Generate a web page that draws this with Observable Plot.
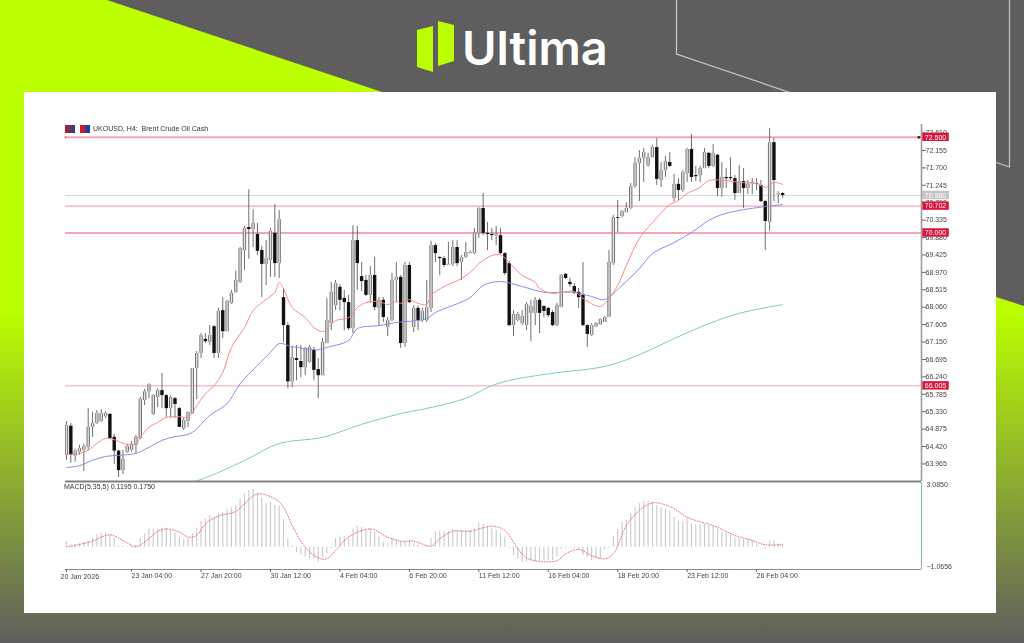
<!DOCTYPE html>
<html>
<head>
<meta charset="utf-8">
<script src="https://cdn.jsdelivr.net/npm/d3@7"></script>
<script src="https://cdn.jsdelivr.net/npm/@observablehq/plot@0.6"></script>
<style>
html,body{margin:0;padding:0;width:1024px;height:643px;overflow:hidden;background:#5e5e5e;font-family:"Liberation Sans",sans-serif}
#bg{position:absolute;left:0;top:0;width:1024px;height:643px;background:linear-gradient(180deg,#bcff00 0,#bcff00 310px,#5e5e5e 643px);clip-path:polygon(0 0,107px 0,382px 92px,996px 92px,996px 297px,1024px 306px,1024px 643px,0 643px)}
#deco{position:absolute;left:0;top:0}
#panel{position:absolute;left:24px;top:92px;width:972px;height:521px;background:#fff}
#main,#macd{position:absolute;left:24px;filter:blur(.4px)}
#main{top:92px}#macd{top:482px}
#title,#macdTitle{position:absolute;font-size:7px;color:#333;white-space:pre;filter:blur(.35px)}
#title{left:93px;top:125px}
#macdTitle{left:64px;top:483px}
.ico{position:absolute;top:125px;height:8px;width:10px;filter:blur(.4px)}
#i1{left:65px;background:linear-gradient(90deg,#b2222a,#24418f)}
#i2{left:80px;width:10px;background:linear-gradient(90deg,#d01c28 50%,#1f3fae 50%)}
</style>
</head>
<body>
<div id="bg"></div>
<svg id="deco" width="1024" height="643">
  <polyline points="676.5,0 676.5,54 1009.5,167 1009.5,0" fill="none" stroke="#c8c8c8" stroke-width="1.2"/>
  <polygon points="417,30 433,26 433,72 417,67" fill="#bcff00"/>
  <polygon points="438,21 454,25 454,61 438,66" fill="#bcff00"/>
  <text x="462" y="65" font-family="Inter" font-weight="600" font-size="47" fill="#fff">Ultima</text>
</svg>
<div id="panel"></div>
<div class="ico" id="i1"></div><div class="ico" id="i2"></div>
<div id="title">UKOUSD, H4:  Brent Crude Oil Cash</div>
<div id="macdTitle">MACD(5,35,5) 0.1195 0.1750</div>
<script>
const opens=[64.19,64.95,64.17,64.27,64.32,64.40,64.92,65.02,65.07,65.20,
65.26,64.66,64.30,63.79,64.27,64.32,64.45,64.63,65.62,65.85,
65.26,65.70,65.88,65.75,65.41,65.67,65.41,64.89,65.07,65.28,
66.46,66.85,67.22,67.14,67.55,66.85,67.97,67.42,68.16,68.45,
68.71,69.54,70.14,70.09,69.96,69.54,69.18,69.28,69.99,69.20,
68.31,67.58,66.11,66.72,66.64,66.48,66.62,66.93,66.43,66.27,
67.11,67.63,68.10,68.58,68.29,68.18,67.50,69.80,68.86,68.76,
68.37,68.89,68.03,68.24,67.53,67.71,68.76,68.84,67.11,69.15,
67.53,68.03,67.71,67.71,68.03,69.67,69.36,69.33,69.15,69.18,
69.62,69.23,69.36,69.46,69.46,69.99,70.64,69.99,69.96,69.93,
69.93,69.46,69.20,67.58,67.71,67.63,67.58,67.90,67.90,68.24,
68.08,68.03,67.92,67.58,68.05,68.92,68.71,68.60,68.45,68.37,
67.58,67.32,67.55,67.60,67.66,67.79,69.20,70.40,70.43,70.53,
70.64,71.21,71.82,71.95,71.76,71.97,72.23,71.37,71.63,71.84,
70.90,71.27,71.11,71.55,72.18,71.50,71.50,71.68,72.08,71.74,
72.03,71.16,71.45,71.45,71.42,71.03,71.34,71.16,71.29,71.29,
71.24,70.82,70.27,72.36,71.00,71.03];
const closes=[64.97,64.19,64.30,64.37,64.42,64.92,65.02,65.28,65.28,65.28,
64.63,64.30,63.79,64.09,64.42,64.48,64.66,65.65,65.85,66.04,
65.75,65.88,65.75,65.41,65.70,65.52,64.92,65.10,65.31,66.46,
66.85,67.32,67.16,67.32,66.85,67.95,67.42,68.21,68.42,68.76,
69.59,70.12,70.09,70.25,69.52,69.18,69.33,70.04,69.20,70.35,
67.58,66.11,66.74,66.67,66.48,66.98,67.01,66.41,66.27,67.14,
67.71,68.45,68.68,68.24,68.18,67.50,69.80,69.20,68.73,68.37,
68.89,68.05,68.24,67.79,67.71,68.76,68.84,67.11,69.15,68.18,
68.03,67.71,67.95,68.05,69.67,69.46,69.33,69.15,69.18,69.62,
69.20,69.36,69.49,69.49,69.99,70.64,69.99,69.96,69.93,69.96,
69.46,68.94,67.58,67.87,67.87,67.82,68.13,68.08,68.24,67.90,
67.95,67.84,67.58,68.10,68.89,68.81,68.65,68.42,68.31,67.58,
67.35,67.58,67.63,67.74,67.79,69.23,70.40,70.38,70.56,70.64,
71.21,71.82,71.95,72.10,71.97,72.23,71.40,71.63,71.87,71.74,
71.27,71.11,71.58,72.18,71.45,71.47,71.68,72.10,71.74,72.08,
71.16,71.45,71.42,71.42,71.03,71.34,71.16,71.27,71.32,71.27,
70.82,70.30,72.36,71.37,71.03,70.98];
const highs=[65.07,65.02,64.35,64.45,64.48,65.41,65.31,65.36,65.39,65.33,
65.28,64.74,64.32,64.32,64.48,64.55,64.71,65.70,65.91,66.06,
65.78,65.93,66.33,65.78,65.75,65.70,65.44,65.15,65.33,66.46,
66.90,67.37,67.37,67.58,67.58,68.03,68.31,68.24,68.50,69.00,
69.62,70.17,71.13,70.61,70.25,69.65,69.80,70.12,70.74,70.59,
68.55,67.66,67.01,67.06,67.06,67.01,67.06,67.01,66.72,67.24,
68.29,68.71,68.76,68.65,68.50,68.37,70.19,70.17,69.23,68.89,
69.12,69.36,68.31,68.31,67.79,68.94,69.23,68.89,69.23,69.23,
68.10,68.10,68.03,68.76,69.78,69.72,69.38,69.38,69.75,69.80,
69.80,69.41,69.75,69.54,70.12,70.66,71.03,70.27,70.12,70.17,
70.12,69.49,69.25,67.97,67.92,67.97,68.18,68.24,68.31,68.29,
68.10,68.05,67.97,68.16,68.92,68.94,68.81,68.68,68.55,69.23,
67.60,67.63,67.66,67.76,67.82,69.54,70.46,70.85,70.59,70.79,
71.29,71.97,72.155,72.21,72.08,72.29,72.47,71.84,72.00,72.10,
71.53,71.42,71.63,72.21,72.57,71.74,71.74,72.21,72.10,72.31,
72.05,71.84,71.68,71.97,71.50,71.76,71.68,71.37,71.42,71.42,
71.37,70.85,72.73,72.47,71.08,71.06];
const lows=[64.06,63.98,64.01,64.19,63.77,64.32,64.66,65.00,65.05,65.15,
64.60,63.95,63.61,63.69,64.24,64.27,64.24,64.60,65.49,65.67,
65.23,65.44,65.41,65.18,65.15,65.15,64.92,64.84,64.92,65.26,
65.65,66.72,67.11,67.06,66.72,66.72,67.24,67.42,68.13,68.42,
68.68,69.02,69.31,69.62,69.41,68.31,68.63,68.84,68.84,68.81,
67.14,65.93,65.96,66.14,66.22,66.27,66.59,66.14,65.67,66.27,
67.11,67.45,67.97,67.97,67.45,67.45,67.37,68.50,68.47,68.34,
68.16,67.97,67.58,67.66,67.29,67.68,68.18,66.98,67.01,68.16,
67.40,67.45,67.66,67.66,67.92,69.23,68.89,69.10,69.15,69.12,
69.12,68.76,69.33,69.46,69.43,69.86,69.93,69.54,69.80,69.67,
69.43,68.89,67.55,67.29,67.68,67.58,67.45,67.16,67.58,67.37,
67.79,67.79,67.55,67.55,68.05,68.79,68.58,68.39,68.03,67.55,
67.01,67.29,67.53,67.60,67.66,67.79,69.15,70.01,70.40,70.53,
70.61,71.16,70.82,71.32,71.71,71.95,71.24,71.19,71.45,71.71,
70.82,70.85,71.06,71.32,71.32,71.34,71.32,71.68,71.68,71.71,
70.95,70.93,71.16,71.37,70.85,71.03,70.64,71.00,71.00,71.11,
70.79,69.54,70.04,70.82,70.77,70.90];

const fastIdx=[0,3,5,7,9,11,14,16,17,19,21,23,26,28,29,32,34,36,38,41,43,45,48,49,50,52,55,57,59,60,62,65,67,69,72,74,76,77,79,81,83,84,87,91,94,95,98,100,102,105,108,109,112,114,117,119,123,125,127,129,132,135,139,141,143,146,148,152,155,159,161,163,165];
const fastMA=[64.21,64.24,64.32,64.50,64.63,64.60,64.47,64.50,64.66,64.92,65.05,65.18,65.20,65.18,65.31,65.80,66.01,66.35,67.01,67.53,67.97,68.18,68.45,68.71,68.55,68.05,67.79,67.53,67.42,67.50,67.71,67.79,68.05,68.18,68.21,68.13,68.21,68.16,68.26,68.16,68.13,68.37,68.60,68.81,69.07,69.20,69.41,69.43,69.23,68.89,68.71,68.55,68.42,68.45,68.47,68.29,68.08,68.29,68.63,69.15,69.86,70.27,70.74,70.85,71.03,71.19,71.37,71.37,71.32,71.29,71.19,71.32,71.27];
const midIdx=[0,3,6,9,12,16,19,22,25,27,29,33,37,40,44,47,49,52,58,60,65,67,72,76,83,85,93,96,100,105,110,114,117,121,124,128,132,135,140,144,148,151,155,159,161,165];
const midMA=[63.87,63.92,64.06,64.16,64.19,64.24,64.40,64.58,64.68,64.71,64.79,65.23,65.54,66.06,66.54,66.88,67.11,67.03,66.95,67.01,67.19,67.50,67.58,67.66,67.76,67.92,68.31,68.63,68.73,68.60,68.45,68.45,68.45,68.34,68.26,68.63,69.07,69.46,69.75,70.01,70.33,70.48,70.59,70.66,70.69,70.74];
const slowIdx=[29,35,42,49,59,68,77,84,92,98,103,113,124,132,140,148,155,165];
const slowMA=[63.48,63.74,64.11,64.50,64.66,65.00,65.28,65.44,65.68,66.01,66.17,66.35,66.51,66.82,67.24,67.63,67.90,68.13];

const macdBars=[.27,.11,.13,.17,.21,.29,.43,.59,.67,.68,
.59,.40,.05,.03,.03,.05,.08,.40,.64,.87,
.87,.87,.92,.87,.80,.67,.48,.37,.40,.64,
.92,1.22,1.35,1.51,1.43,1.59,1.64,1.78,1.88,1.99,
2.31,2.54,2.70,2.75,2.54,2.35,2.07,2.15,1.99,1.96,
1.32,.40,.05,-.27,-.37,-.48,-.56,-.56,-.72,-.48,
-.32,-.08,.40,.48,.51,.40,.87,.99,.95,.80,
.87,.72,.48,.24,.16,.40,.32,.27,.24,.32,
.16,.08,-.05,.05,.43,.72,.76,.76,.72,.84,
.80,.80,.80,.80,.87,1.14,1.08,.95,.87,.80,
.64,.48,-.08,-.40,-.56,-.75,-.72,-.68,-.68,-.68,
-.64,-.64,-.64,-.48,-.11,-.05,-.05,-.08,-.16,-.40,
-.48,-.64,-.56,-.56,-.11,-.05,.51,.87,1.19,1.30,
1.59,1.88,2.07,2.18,2.18,2.15,1.99,1.88,1.83,1.72,
1.43,1.22,1.22,1.35,1.11,1.08,1.08,1.08,1.03,1.03,
.87,.72,.68,.56,.45,.40,.35,.35,.32,.16,
0,-.11,.29,.32,.16,.13];
const signalIdx=[0,3,6,10,13,16,19,21,23,26,28,30,32,35,39,41,44,48,50,52,55,58,60,62,65,70,74,77,80,84,86,89,93,98,101,104,106,109,113,115,118,121,124,126,129,132,135,139,143,145,149,154,158,161,165];
const signalLine=[0,.13,.29,.59,.32,.03,.40,.75,.87,.72,.48,.56,1.11,1.48,1.70,2.07,2.54,2.31,1.91,1.03,0,-.51,-.56,-.16,.48,.87,.48,.29,.29,.05,.40,.76,.76,1.0,.80,-.08,-.51,-.68,-.64,-.32,-.11,-.40,-.56,-.32,1.03,1.75,2.11,1.94,1.43,1.27,1.03,.56,.32,.11,.13];

const priceTicks=[72.610,72.155,71.700,71.245,70.790,70.335,69.880,69.425,68.970,68.515,68.060,67.605,67.150,66.695,66.240,65.785,65.330,64.875,64.420,63.965];
const levels=[72.500,70.702,70.000,66.005];
const levelWidths=[2,1.3,2,1];
const lastPrice=[70.980];
const dateIdx=[0,15,31,47,63,79,95,111,127,143,159];
const dateLabels=["","23 Jan 04:00","27 Jan 20:00","30 Jan 12:00","4 Feb 04:00","6 Feb 20:00","11 Feb 12:00","16 Feb 04:00","18 Feb 20:00","23 Feb 12:00","26 Feb 04:00"];
const firstDate="20 Jan 2026";
const macdScale=[3.0850,-1.0656];

const xDomain=[-0.23,197];
const font="Liberation Sans";
const bars=opens.map((o,i)=>({i,o,c:closes[i],h:highs[i],l:lows[i],top:Math.max(o,closes[i]),bot:Math.min(o,closes[i])}));
const up=bars.filter(b=>b.c>=b.o), down=bars.filter(b=>b.c<b.o);
const pts=(xs,ys)=>xs.map((x,k)=>({x,y:ys[k]}));
const tags=[...levels.map(p=>({p,f:"#dc143c"})),...lastPrice.map(p=>({p,f:"#c4c4c4"}))];
const tagL=197.3, tagR=203.4, tagH=.11;

const main=Plot.plot({
  width:972,height:390,marginLeft:41,marginRight:75,marginTop:32,marginBottom:1,
  style:{background:"transparent",fontFamily:font,fontSize:"7px",color:"#444",overflow:"visible"},
  x:{domain:xDomain,axis:null},
  y:{domain:[63.506,72.834],axis:null},
  marks:[
    Plot.ruleY(lastPrice,{stroke:"#d8d8d8",strokeWidth:1}),
    Plot.ruleY(levels,{stroke:"#f6a6b2",strokeWidth:(d,k)=>levelWidths[k]}),
    Plot.line(pts(slowIdx,slowMA),{x:"x",y:"y",stroke:"#7cc9c2",strokeWidth:1,curve:"catmull-rom",clip:true}),
    Plot.ruleX(bars,{x:"i",y1:"l",y2:"h",stroke:"#555",strokeWidth:.85,clip:true}),
    Plot.ruleX(up,{x:"i",y1:"bot",y2:"top",stroke:"#777",strokeWidth:3.4,clip:true}),
    Plot.ruleX(up,{x:"i",y1:"bot",y2:"top",stroke:"#e4e4e4",strokeWidth:1.3,clip:true}),
    Plot.ruleX(down,{x:"i",y1:"bot",y2:"top",stroke:"#111",strokeWidth:3.4,clip:true}),
    Plot.line(pts(midIdx,midMA),{x:"x",y:"y",stroke:"#8a8aec",strokeWidth:1,curve:"catmull-rom"}),
    Plot.line(pts(fastIdx,fastMA),{x:"x",y:"y",stroke:"#f68a8a",strokeWidth:1,curve:"catmull-rom"}),
    Plot.ruleX([xDomain[1]],{stroke:"#9c9c9c",strokeWidth:1.6}),
    Plot.axisY({anchor:"right",ticks:priceTicks,tickFormat:d3.format(".3f"),tickSize:4,tickPadding:0,label:null,fill:"#444",stroke:"#666"}),
    Plot.rect(tags,{x1:()=>tagL,x2:()=>tagR,y1:d=>d.p-tagH,y2:d=>d.p+tagH,fill:"f"}),
    Plot.text(tags,{x:()=>tagL,y:"p",dx:2,text:d=>d3.format(".3f")(d.p),textAnchor:"start",fill:"#fff"}),
    Plot.dot([levels[0]],{x:()=>196.4,y:d=>d,r:1.4,fill:"#222"}),
    Plot.dot([levels[0]],{x:()=>xDomain[0],y:d=>d,r:1,fill:"#e06a7a"}),
    Plot.ruleY([63.506],{stroke:"#808080",strokeWidth:2.2})
  ]
});
main.id="main";
document.body.appendChild(main);

const macd=Plot.plot({
  width:972,height:108,marginLeft:41,marginRight:75,marginTop:0,marginBottom:21,
  style:{background:"transparent",fontFamily:font,fontSize:"7px",color:"#444",overflow:"visible"},
  x:{domain:xDomain,axis:null},
  y:{domain:[macdScale[1],macdScale[0]],axis:null},
  marks:[
    Plot.ruleX(macdBars.map((v,i)=>({i,v})),{x:"i",y1:()=>0,y2:"v",stroke:"#c9c9c9",strokeWidth:1.1}),
    Plot.line(pts(signalIdx,signalLine),{x:"x",y:"y",stroke:"#ef5a5a",strokeWidth:.9,strokeDasharray:"1 1.7",curve:"catmull-rom"}),
    Plot.ruleX([xDomain[1]],{stroke:"#8fbcb8",strokeWidth:1.2}),
    Plot.ruleY([macdScale[1]],{stroke:"#8a8a8a",strokeWidth:1.2}),
    Plot.text([macdScale[0]],{x:()=>xDomain[1],y:d=>d,dx:5,dy:2,text:d=>d3.format(".4f")(d),textAnchor:"start",fill:"#444"}),
    Plot.text([macdScale[1]],{x:()=>xDomain[1],y:d=>d,dx:5,dy:-3,text:d=>d3.format(".4f")(d),textAnchor:"start",fill:"#444"}),
    Plot.axisX({anchor:"bottom",ticks:dateIdx,tickFormat:d=>dateLabels[dateIdx.indexOf(d)],tickSize:3,tickPadding:1,textAnchor:"start",label:null,fill:"#444",stroke:"#666"}),
    Plot.text([firstDate],{x:()=>dateIdx[0],y:()=>macdScale[1],dx:-6,dy:7,text:d=>d,textAnchor:"start",fill:"#444"})
  ]
});
macd.id="macd";
document.body.appendChild(macd);
</script>
</body>
</html>
